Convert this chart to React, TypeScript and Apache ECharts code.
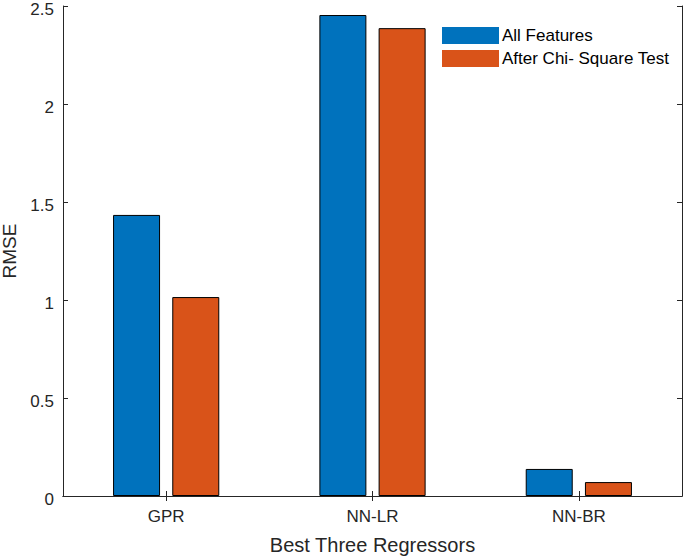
import React, { useEffect, useRef } from "react";
import * as echarts from "echarts";

const categories = ["GPR", "NN-LR", "NN-BR"];
const allFeatures = [1.434, 2.454, 0.138];
const afterChiSquare = [1.015, 2.387, 0.071];
const seriesNames = ["All Features", "After Chi- Square Test"];
const yMin = 0;
const yMax = 2.5;
const yStep = 0.5;

const FONT = "'Liberation Sans', Arial, Helvetica, sans-serif";
const TEXT = "#262626";
const AXIS = "#262626";

export default function App() {
  const ref = useRef<HTMLDivElement>(null);
  useEffect(() => {
    if (!ref.current) return;
    const chart = echarts.init(ref.current, undefined, { renderer: "svg" });
    const option = {
      animation: false,
      backgroundColor: "#ffffff",
      textStyle: { fontFamily: FONT, color: TEXT },
      grid: { left: 63, right: 3, top: 6, bottom: 63, containLabel: false, outerBoundsMode: "none" },
      legend: {
        orient: "vertical",
        left: 437,
        top: 22,
        icon: "rect",
        itemWidth: 57,
        itemHeight: 17,
        itemGap: 6,
        data: seriesNames,
        itemStyle: { borderWidth: 0 },
        textStyle: { fontFamily: FONT, fontSize: 17, color: "#000000", padding: [0, 0, 0, -2] },
      },
      xAxis: [
        {
          type: "category",
          data: categories,
          position: "bottom",
          name: "Best Three Regressors",
          nameLocation: "middle",
          nameGap: 39,
          nameTextStyle: { fontFamily: FONT, fontSize: 20, color: TEXT },
          axisLine: { show: true, lineStyle: { color: AXIS, width: 1 } },
          axisTick: { show: true, inside: true, alignWithLabel: true, length: 5, lineStyle: { color: AXIS } },
          axisLabel: { fontFamily: FONT, fontSize: 17, color: TEXT, margin: 12 },
          splitLine: { show: false },
        },
        {
          type: "category",
          data: categories,
          position: "top",
          axisLine: { show: true, lineStyle: { color: AXIS, width: 1 } },
          axisTick: { show: true, inside: true, alignWithLabel: true, length: 5, lineStyle: { color: AXIS } },
          axisLabel: { show: false },
          splitLine: { show: false },
        },
      ],
      yAxis: [
        {
          type: "value",
          min: yMin,
          max: yMax,
          interval: yStep,
          position: "left",
          name: "RMSE",
          nameLocation: "middle",
          nameGap: 38,
          nameTextStyle: { fontFamily: FONT, fontSize: 19, lineHeight: 19, color: TEXT },
          axisLine: { show: true, lineStyle: { color: AXIS, width: 1 } },
          axisTick: { show: true, inside: true, length: 5, lineStyle: { color: AXIS } },
          axisLabel: {
            fontFamily: FONT,
            fontSize: 17,
            color: TEXT,
            margin: 9,
            verticalAlign: "top",
            lineHeight: 6,
          },
          splitLine: { show: false },
        },
        {
          type: "value",
          min: yMin,
          max: yMax,
          interval: yStep,
          position: "right",
          axisLine: { show: true, lineStyle: { color: AXIS, width: 1 } },
          axisTick: { show: true, inside: true, length: 5, lineStyle: { color: AXIS } },
          axisLabel: { show: false },
          splitLine: { show: false },
        },
      ],
      series: [
        {
          name: seriesNames[0],
          type: "bar",
          data: allFeatures,
          barWidth: 47,
          barGap: "26%",
          itemStyle: { color: "#0072BD", borderColor: "#000000", borderWidth: 1 },
        },
        {
          name: seriesNames[1],
          type: "bar",
          data: afterChiSquare,
          barWidth: 47,
          barGap: "26%",
          itemStyle: { color: "#D95319", borderColor: "#000000", borderWidth: 1 },
        },
      ],
    };
    chart.setOption(option);
    return () => chart.dispose();
  }, []);
  return (
    <div
      ref={ref}
      style={{ position: "fixed", left: 0, top: 0, width: 685, height: 559 }}
    />
  );
}
